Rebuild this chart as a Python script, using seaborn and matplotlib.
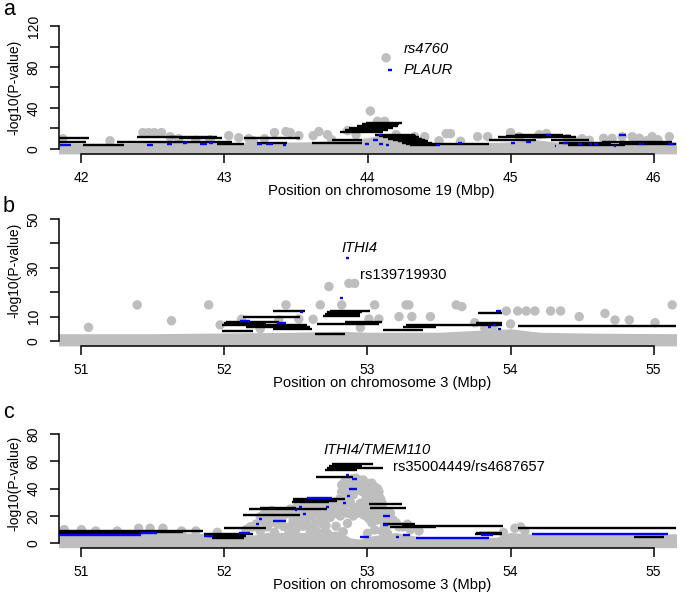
import numpy as np
import pandas as pd
import matplotlib
matplotlib.use("Agg")
import matplotlib.pyplot as plt
import seaborn as sns

sns.set_theme(style="ticks")
plt.rcParams['font.family'] = ['Liberation Sans', 'DejaVu Sans']
plt.rcParams['text.color'] = 'black'
plt.rcParams['axes.labelcolor'] = 'black'

GREY = '#BEBEBE'
BLUE = '#0000FF'
W, H = 685, 592

# ---------------- panel a : chromosome 19 ----------------
a_band_x = [41.84, 42.0, 42.3, 42.6, 43.0, 43.3, 43.6, 43.8, 44.0, 44.1, 44.2, 44.3,
            44.45, 44.7, 45.0, 45.15, 45.3, 45.6, 45.9, 46.16]
a_band_top = [6, 5.5, 5.5, 6.5, 6, 6.5, 7, 8, 11, 14, 12, 8.5, 5.5, 5.5, 7, 9.5, 7, 5.5, 6, 6.5]

a_grey_x = [41.87, 42.43, 42.47, 42.51, 42.56, 42.62, 42.68, 42.9, 43.03, 43.1, 43.17,
            43.28, 43.35, 43.43, 43.46, 43.52, 43.62, 43.66, 43.72, 43.86, 43.92, 44.02,
            44.07, 44.12, 44.13, 44.2, 44.33, 44.4, 44.55, 44.58, 44.77, 44.84, 45.0,
            45.06, 45.2, 45.25, 45.4, 45.5, 45.65, 45.71, 45.78, 45.85, 45.9, 45.99,
            46.03, 46.11, 42.2, 42.8, 43.2, 43.75, 44.5, 44.65, 45.45, 45.55, 45.95]
a_grey_y = [10, 16, 16, 16, 16, 12, 10, 9, 13, 11, 10, 10, 16, 17, 16, 13, 13, 17, 14,
            18, 14, 37, 27, 27, 89, 14, 12, 12, 15, 15, 12, 12, 16, 12, 14, 15, 10, 10,
            10.4, 10.4, 12, 12, 10.5, 12, 9, 12, 8, 8.5, 8, 9, 8, 7.5, 8, 8.5, 8]

a_black_start = [41.84, 41.84, 42.01, 42.25, 42.39, 42.62, 42.68, 42.95, 43.14, 43.23,
                 43.61, 43.75, 43.81, 43.84, 43.87, 43.93, 43.96, 43.99, 44.05, 44.08,
                 44.11, 44.14, 44.18, 44.21, 44.24, 44.27, 44.30, 44.45, 44.85, 44.91,
                 44.97, 45.03, 45.09, 45.15, 45.28, 45.34, 45.40, 45.64, 45.76]
a_black_end = [42.05, 42.03, 42.30, 43.05, 42.66, 42.95, 42.98, 43.14, 43.53, 43.44,
               43.96, 43.96, 44.11, 44.14, 44.18, 44.21, 44.22, 44.24, 44.33, 44.34,
               44.36, 44.38, 44.40, 44.42, 44.45, 44.46, 44.48, 44.85, 45.18, 45.25,
               45.30, 45.37, 45.42, 45.46, 45.55, 45.70, 45.80, 46.13, 46.16]
a_black_y = [10.4, 7.2, 3.9, 7.2, 12.0, 11.4, 10.5, 4.9, 10.4, 6.2,
             6.2, 8.8, 16.9, 18.5, 20.1, 22.4, 24.0, 25.7, 13.7, 12.5,
             11.4, 10.0, 8.8, 7.5, 6.2, 5.0, 3.9, 4.9, 8.8, 12.0,
             13.0, 14.0, 12.7, 11.4, 8.8, 6.2, 3.9, 7.2, 4.9]

a_blue_start = [41.85, 42.46, 42.60, 42.71, 42.83, 42.89, 43.23, 43.29, 43.41, 43.98,
                44.04, 44.08, 44.13, 44.08, 44.14, 44.48, 44.63, 45.00, 45.11, 45.25,
                45.31, 45.37, 45.47, 45.55, 45.58, 45.72, 45.76, 45.90, 45.92, 46.10]
a_blue_end = [41.93, 42.50, 42.63, 42.74, 42.88, 42.92, 43.26, 43.34, 43.43, 44.01,
              44.07, 44.11, 44.15, 44.10, 44.17, 44.51, 44.66, 45.03, 45.14, 45.28,
              45.32, 45.40, 45.50, 45.57, 45.61, 45.74, 45.81, 45.91, 45.93, 46.14]
a_blue_y = [3.9, 3.9, 4.9, 6.2, 4.9, 5.5, 4.9, 4.9, 3.9, 4.9,
            8.8, 4.9, 3.5, 13.7, 77, 3.5, 5.5, 5.5, 7.2, 13.7,
            2.9, 6.2, 4.6, 4.9, 4.9, 2.5, 13.7, 5.0, 4.6, 4.9]

a_yticks = [0, 20, 40, 60, 80, 100, 120]
a_ytick_labels = ['0', '', '40', '', '80', '', '120']

# ---------------- panel b : chromosome 3 ----------------
b_band_x = [50.84, 51.5, 52.0, 52.5, 52.8, 53.0, 53.5, 53.8, 54.0, 54.2, 54.6, 55.16]
b_band_top = [3, 3, 3.3, 3.6, 4, 3.6, 3.6, 4.5, 5, 3.6, 3.2, 3]

b_grey_x = [52.73, 52.87, 52.91, 51.39, 51.05, 51.63, 51.89, 51.97, 52.43, 52.67, 52.82,
            53.05, 53.27, 53.29, 53.62, 53.66, 53.97, 54.05, 54.11, 54.17, 54.28, 54.35,
            54.48, 54.66, 54.73, 54.83, 55.01, 55.13, 52.62, 53.01, 53.08, 53.22, 53.31,
            53.44, 52.52, 52.38, 52.12, 53.82, 54.0, 53.88, 53.75, 52.95, 52.25]
b_grey_y = [22.3, 23.6, 23.6, 14.8, 5.6, 8.3, 14.8, 6.6, 14.8, 14.8, 14.8,
            14.8, 14.8, 14.8, 14.8, 14.1, 12.3, 12.3, 12.3, 12.3, 12.3, 12.3,
            10.0, 11.3, 8.6, 8.6, 7.5, 14.8, 8.9, 9.0, 9.0, 10.0, 10.0,
            10.0, 9.0, 8.6, 8.9, 5.2, 7.0, 6.0, 7.5, 5.5, 5.0]

b_black_start = [52.34, 52.13, 52.01, 52.00, 51.98, 52.15, 51.98, 52.34, 52.74, 52.72,
                 52.70, 52.69, 52.65, 52.84, 52.63, 53.11, 53.25, 53.27, 53.76, 53.77,
                 54.05]
b_black_end = [52.56, 52.53, 52.38, 52.29, 52.58, 52.60, 52.20, 52.61, 53.02, 52.96,
               52.95, 52.95, 53.08, 53.10, 52.84, 53.39, 53.48, 53.94, 53.94, 53.94,
               55.16]
b_black_y = [12.4, 9.7, 7.9, 7.2, 6.6, 5.6, 4.2, 4.8, 12.4, 11.7,
             10.9, 10.2, 6.9, 7.6, 2.9, 4.5, 5.6, 6.6, 7.5, 11.6,
             6.3]

b_blue_start = [52.85, 52.81, 52.53, 52.11, 52.37, 53.84, 53.91, 53.88, 53.90]
b_blue_end = [52.87, 52.83, 52.55, 52.18, 52.43, 53.86, 53.93, 53.90, 53.93]
b_blue_y = [33.9, 17.5, 12.0, 8.2, 7.2, 5.6, 5.1, 6.6, 12.2]

b_yticks = [0, 10, 20, 30, 40, 50]
b_ytick_labels = ['0', '10', '', '30', '', '50']

# ---------------- panel c : chromosome 3 ----------------
c_band_x = [50.84, 51.0, 51.5, 51.9, 52.0, 52.2, 52.3, 52.6, 52.8, 52.88, 52.95, 53.0,
            53.2, 53.35, 53.5, 53.9, 54.0, 54.1, 55.16]
c_band_top = [9, 9.5, 8.5, 7, 5.5, 6, 8, 8, 9, 4, 3, 5, 8, 5, 4, 4.5, 8, 7, 7]

c_grey_x = [50.88, 51.0, 51.1, 51.25, 51.4, 51.48, 51.57, 51.7, 51.8, 51.95,
            52.2, 52.22, 52.25, 52.27, 52.3, 52.34, 52.36, 52.41, 52.44, 52.48,
            52.5, 52.53, 52.55, 52.58, 52.6, 52.62, 52.65, 52.67, 52.7, 52.72,
            52.74, 52.78, 52.79, 52.8, 52.82, 52.82, 52.84, 52.84, 52.86, 52.86,
            52.9, 52.92, 52.95, 52.97, 52.97, 53.0, 53.0, 53.01, 53.03, 53.05,
            53.05, 53.05, 53.08, 53.08, 53.1, 53.12, 53.14, 53.15, 53.18, 53.22,
            53.3, 53.36, 52.72, 52.83, 52.6, 52.48, 52.35, 53.0, 54.03, 54.07,
            54.1, 53.95,
            52.28, 52.32, 52.38, 52.4, 52.46, 52.52, 52.55, 52.57, 52.63, 52.66,
            52.68, 52.7, 52.75, 52.77, 52.81, 52.81, 52.83, 52.85, 52.88, 52.9,
            52.94, 52.96, 52.99, 53.02, 53.04, 53.06, 53.07, 53.09, 53.11, 53.13,
            53.16, 53.2, 53.25, 53.28, 52.45, 52.5, 52.62, 52.65, 52.9, 52.93,
            52.98, 53.03, 52.15, 52.18, 53.1,
            52.84, 52.87, 52.89, 52.91, 52.93, 52.95, 52.97, 52.99, 53.01, 53.03,
            53.06, 53.07, 53.09, 53.10, 53.11,
            52.84, 52.86, 52.88, 52.90, 52.92, 52.96, 52.99, 53.02, 53.04, 53.07,
            53.09, 53.12,
            52.30, 52.33, 52.37, 52.42, 52.47, 52.51, 52.54, 52.56, 52.59, 52.61,
            52.64, 52.67, 52.69, 52.71, 52.73, 52.76, 52.78, 52.80, 52.62, 52.45,
            52.25, 52.70]
c_grey_y = [10, 10, 9, 9, 11, 11, 11, 9, 9, 8,
            12, 14, 19.5, 16, 12, 20.7, 17, 12.5, 22, 17,
            26, 24.4, 12.5, 27, 19.5, 28, 24.4, 14.6, 19, 26.8,
            19, 12.5, 22, 28, 37.8, 42.7, 33, 40, 14.6, 45,
            35.4, 47.6, 29.3, 46.3, 21, 43.9, 24.4, 18, 40, 41.4,
            19.5, 9.8, 37.8, 31.7, 17.1, 12.2, 7.3, 14, 17, 12,
            10, 9, 7.3, 8.5, 8.5, 8, 8, 7.3, 11, 12,
            9, 8,
            22, 15, 22, 18, 25, 20, 28, 16, 22, 30,
            17, 27, 24, 30, 20, 33, 24, 38, 44, 42,
            44, 38, 33, 30, 35, 26, 22, 28, 24, 19,
            22, 15, 12, 14, 12, 10, 12, 8, 26, 22,
            27, 15, 10, 12, 9,
            45, 41, 47, 39, 41, 46, 41, 38, 36, 44,
            36, 40, 33, 30, 25,
            28, 22, 30, 20, 26, 24, 20, 24, 28, 17,
            21, 16,
            18, 24, 14, 21, 21, 14, 18, 23, 13, 25,
            15, 20, 24, 13, 22, 27, 22, 25, 10, 9,
            9, 9]

c_black_start = [52.75, 52.73, 52.72, 52.70, 52.64, 52.48, 52.48, 52.47, 52.25, 52.17,
                 52.13, 52.00, 53.01, 53.02, 53.11, 53.16, 53.24, 53.76, 53.75, 53.78,
                 54.05, 54.86, 50.84, 51.31, 50.84, 51.86, 51.88, 51.91]
c_black_end = [53.04, 52.96, 53.11, 52.93, 52.90, 52.84, 52.79, 52.73, 52.50, 52.72,
               52.53, 52.29, 53.24, 53.27, 53.33, 53.48, 53.95, 53.94, 53.94, 53.92,
               55.16, 55.07, 51.85, 51.71, 51.43, 52.20, 52.15, 52.14]
c_black_y = [57.8, 56.6, 54.9, 53.7, 48.8, 32.4, 31.2, 30.0, 25.6, 24.9,
             20.7, 11.0, 28.5, 26.1, 13.9, 12.2, 12.9, 7.8, 6.8, 7.3,
             11.4, 4.8, 9.2, 8.5, 7.3, 6.8, 5.3, 4.1]

c_blue_start = [50.84, 51.42, 51.86, 52.10, 52.22, 52.24, 52.34, 52.49, 52.52, 52.55,
                52.58, 52.71, 52.83, 52.85, 52.89, 52.87, 52.86, 52.95, 53.11, 53.11,
                53.20, 53.25, 53.34, 53.79, 54.15]
c_blue_end = [51.42, 51.53, 51.92, 52.18, 52.24, 52.26, 52.43, 52.51, 52.54, 52.57,
              52.75, 52.73, 52.85, 52.87, 52.93, 52.93, 52.88, 53.01, 53.16, 53.14,
              53.22, 53.30, 53.85, 53.88, 55.10]
c_blue_y = [6.1, 7.3, 5.3, 7.8, 14.1, 17.6, 16.5, 24.4, 26.8, 21.4,
            32.9, 26.8, 29.7, 50.0, 46.8, 39.7, 34.6, 4.3, 20.0, 13.4,
            4.8, 6.1, 4.1, 6.1, 6.6]

c_yticks = [0, 20, 40, 60, 80]
c_ytick_labels = ['0', '20', '40', '60', '80']


def px_axes(fig, left, top, right, bottom):
    return fig.add_axes([left / W, 1 - bottom / H, (right - left) / W, (bottom - top) / H])


def draw_panel(ax, band_x, band_top, grey_x, grey_y, black, blue, xlim, ylim,
               xticks, yticks, ylabels):
    ax.fill_between(band_x, ylim[0], band_top, color=GREY, lw=0, zorder=1)
    sns.scatterplot(x=grey_x, y=grey_y, ax=ax, color=GREY, s=46, edgecolor='none',
                    linewidth=0, zorder=2, legend=False)
    ax.hlines(black[2], black[0], black[1], color='black', lw=1.7, zorder=3)
    ax.hlines(blue[2], blue[0], blue[1], color=BLUE, lw=1.7, zorder=4)
    ax.set_xlim(*xlim)
    ax.set_ylim(*ylim)
    ax.set_facecolor('white')
    ax.grid(False)
    ax.spines['top'].set_visible(False)
    ax.spines['right'].set_visible(False)
    for sp in ('left', 'bottom'):
        ax.spines[sp].set_linewidth(1.1)
        ax.spines[sp].set_color('black')
    ax.spines['left'].set_bounds(yticks[0], yticks[-1])
    ax.spines['bottom'].set_bounds(xticks[0], xticks[-1])
    ax.set_xticks(xticks)
    ax.set_yticks(yticks)
    ax.set_yticklabels(ylabels)
    ax.tick_params(axis='both', direction='out', length=6.5, width=1.1, color='black',
                   labelsize=10, labelcolor='black')
    ax.tick_params(axis='x', pad=5.6)
    ax.tick_params(axis='y', pad=6.3)
    for lab in ax.get_yticklabels():
        lab.set_rotation(90)
        lab.set_va('center')
    ax.set_xlabel('')
    ax.set_ylabel('')


fig = plt.figure(figsize=(W / 100, H / 100), dpi=100)
fig.patch.set_facecolor('white')

ax_a = px_axes(fig, 58.5, 21.1, 676.5, 153.9)
draw_panel(ax_a, a_band_x, a_band_top, a_grey_x, a_grey_y,
           (a_black_start, a_black_end, a_black_y), (a_blue_start, a_blue_end, a_blue_y),
           (41.84, 46.16), (-4.8, 124.8), [42, 43, 44, 45, 46], a_yticks, a_ytick_labels)
ax_a.text(44.25, 97.6, 'rs4760', fontsize=10.6, style='italic', va='center', ha='left')
ax_a.text(44.25, 77.1, 'PLAUR', fontsize=10.6, style='italic', va='center', ha='left')

ax_b = px_axes(fig, 58.5, 214.1, 676.5, 345.9)
draw_panel(ax_b, b_band_x, b_band_top, b_grey_x, b_grey_y,
           (b_black_start, b_black_end, b_black_y), (b_blue_start, b_blue_end, b_blue_y),
           (50.84, 55.16), (-2, 52), [51, 52, 53, 54, 55], b_yticks, b_ytick_labels)
ax_b.text(52.82, 38, 'ITHI4', fontsize=10.6, style='italic', va='center', ha='left')
ax_b.text(52.95, 27, 'rs139719930', fontsize=10.6, va='center', ha='left')

ax_c = px_axes(fig, 58.5, 429.6, 676.5, 547.7)
draw_panel(ax_c, c_band_x, c_band_top, c_grey_x, c_grey_y,
           (c_black_start, c_black_end, c_black_y), (c_blue_start, c_blue_end, c_blue_y),
           (50.84, 55.16), (-3.2, 83.2), [51, 52, 53, 54, 55], c_yticks, c_ytick_labels)
ax_c.text(52.69, 68.3, 'ITHI4/TMEM110', fontsize=10.6, style='italic', va='center', ha='left')
ax_c.text(53.18, 56, 'rs35004449/rs4687657', fontsize=10.6, va='center', ha='left')

# axis titles and panel letters (pixel positions)
xlabels = ['Position on chromosome 19 (Mbp)', 'Position on chromosome 3 (Mbp)',
           'Position on chromosome 3 (Mbp)']
axis_bottoms = [153.9, 345.9, 547.7]
ylabel_centers = [87.5, 270, 483.5]
letters = ['a', 'b', 'c']
letter_baselines = [15, 211.7, 418.3]
for i in range(3):
    fig.text(381.7 / W, 1 - (axis_bottoms[i] + 41.5) / H, xlabels[i], fontsize=10.6,
             ha='center', va='baseline')
    fig.text(14 / W, 1 - ylabel_centers[i] / H, '-log10(P-value)', fontsize=10,
             rotation=90, ha='center', va='center')
    fig.text(3 / W, 1 - letter_baselines[i] / H, letters[i], fontsize=15.5,
             ha='left', va='baseline')

fig.savefig('out.png', dpi=100, facecolor='white')
